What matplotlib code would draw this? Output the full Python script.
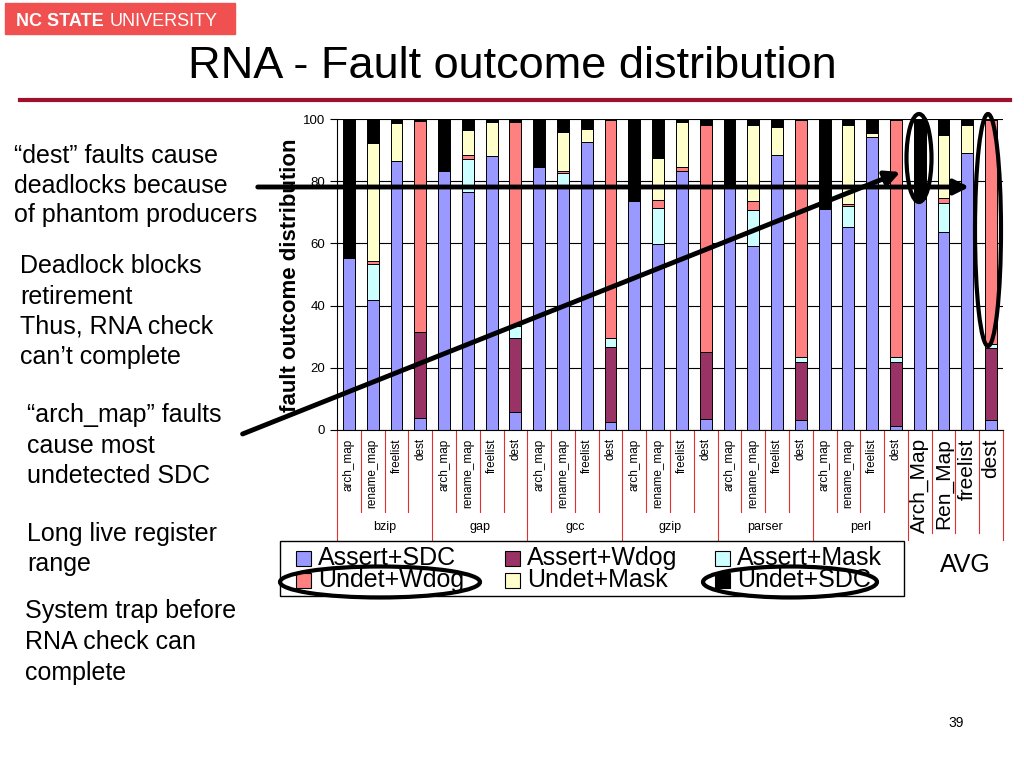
import matplotlib
matplotlib.use('Agg')
import matplotlib.pyplot as plt
from matplotlib.patches import Rectangle, Ellipse
from matplotlib.lines import Line2D
import numpy as np

plt.rcParams['font.family'] = ['Liberation Sans', 'DejaVu Sans']

benchmarks = ['bzip', 'gap', 'gcc', 'gzip', 'parser', 'perl']
structures = ['arch_map', 'rename_map', 'freelist', 'dest']
avg_labels = ['Arch_Map', 'Ren_Map', 'freelist', 'dest']

# per bar: bzip(4), gap(4), gcc(4), gzip(4), parser(4), perl(4), AVG(4)
assert_sdc = [55.4, 41.7, 86.5, 3.8,  83.3, 76.4, 88.2, 5.9,  84.7, 78.8, 92.5, 2.7,
              73.7, 59.8, 83.3, 3.4,  78.0, 59.3, 88.5, 3.2,  71.0, 65.4, 94.3, 1.3,
              74.4, 63.6, 89.0, 3.2]
assert_wdog = [0, 0, 0, 27.8,  0, 0, 0, 23.8,  0, 0, 0, 23.9,
               0, 0, 0, 21.8,  0, 0, 0, 18.8,  0, 0, 0, 20.7,
               0, 0, 0, 23.1]
assert_mask = [0, 11.6, 0, 0,  0, 10.6, 0, 3.7,  0, 3.7, 0, 3.1,
               0, 11.5, 0, 0,  0, 11.4, 0, 1.6,  0, 6.6, 0, 1.4,
               0, 9.3, 0, 1.3]
undet_wdog = [0, 1.1, 0, 67.9,  0, 1.3, 0, 65.7,  0, 0.9, 0, 70.0,
              0, 2.7, 1.2, 72.9,  0, 3.0, 0, 76.1,  0, 0.6, 0, 76.3,
              0, 1.6, 0, 72.2]
undet_mask = [0, 37.8, 12.1, 0,  0, 8.2, 10.7, 0,  0, 12.5, 4.2, 0,
              0, 13.6, 14.6, 0,  0, 24.4, 9.0, 0,  0, 25.5, 1.3, 0,
              0, 20.4, 9.1, 0]
undet_sdc = [44.6, 7.8, 1.4, 0.5,  16.7, 3.5, 1.1, 0.9,  15.3, 4.1, 3.3, 0.3,
             26.3, 12.4, 0.9, 1.9,  22.0, 1.9, 2.5, 0.3,  29.0, 1.9, 4.4, 0.3,
             25.6, 5.1, 1.9, 0.2]

series = ['Assert+SDC', 'Assert+Wdog', 'Assert+Mask', 'Undet+Wdog', 'Undet+Mask', 'Undet+SDC']
colors = ['#9999FF', '#993366', '#CCFFFF', '#FF8080', '#FFFFCC', '#000000']
values = [assert_sdc, assert_wdog, assert_mask, undet_wdog, undet_mask, undet_sdc]

W, H = 1024, 768
fig = plt.figure(figsize=(10.24, 7.68), dpi=100)


def fx(x):
    return x / W


def fy(y):
    return 1 - y / H


# header
fig.add_artist(Rectangle((fx(5), fy(34)), fx(230), 31 / H, color='#F05050', transform=fig.transFigure))
fig.text(fx(16), fy(26), 'NC STATE', color='white', fontsize=13, fontweight='bold')
fig.text(fx(110), fy(26), 'UNIVERSITY', color='white', fontsize=13)
fig.text(fx(512), fy(78), 'RNA - Fault outcome distribution', fontsize=32.5, ha='center', va='baseline')
fig.add_artist(Line2D([fx(20), fx(1010)], [fy(100), fy(100)], color='#A0102A', lw=3))

# chart
ax = fig.add_axes([fx(337), fy(430), (1003 - 337) / W, (430 - 119) / H])
x = np.arange(len(assert_sdc))
bottom = np.zeros(len(x))
for name, c, v in zip(series, colors, values):
    ax.bar(x, v, 0.5, bottom=bottom, color=c, edgecolor='black', linewidth=0.7, label=name)
    bottom += np.array(v)

ax.set_xlim(-0.5, len(x) - 0.5)
ax.set_ylim(0, 100)
ax.set_yticks([0, 20, 40, 60, 80, 100])
ax.tick_params(axis='y', labelsize=9.5, length=5, width=0.8)
ax.yaxis.grid(True, color='black', lw=0.8)
ax.set_axisbelow(True)
for s in ['top', 'right']:
    ax.spines[s].set_visible(False)

labels = structures * len(benchmarks) + avg_labels
ax.set_xticks(x)
ax.set_xticklabels(labels, rotation=90, fontsize=8.5)
for t in ax.get_xticklabels()[-4:]:
    t.set_fontsize(15)
ax.tick_params(axis='x', length=0, pad=6)

tr = ax.get_xaxis_transform()
for i in range(len(x) + 1):
    low = -0.354 if i % 4 == 0 else (-0.33 if i > 24 else -0.264)
    ax.plot([i - 0.5, i - 0.5], [0, low], color='#E03030', lw=0.8, transform=tr, clip_on=False)
for k, b in enumerate(benchmarks):
    ax.text(4 * k + 1.5, -0.312, b, transform=tr, ha='center', va='center', fontsize=9)

fig.text(fx(290), fy(275), 'fault outcome distribution', rotation=90, fontsize=16,
         fontweight='bold', ha='center', va='center')

# legend
fig.add_artist(Rectangle((fx(280), fy(596)), fx(624), 55 / H, fill=False, edgecolor='black',
                         lw=1, transform=fig.transFigure))
col_x = [296, 505, 715]
row_y = [558, 580]
for k, (name, c) in enumerate(zip(series, colors)):
    cx = col_x[k % 3]
    cy = row_y[k // 3]
    fig.add_artist(Rectangle((fx(cx), fy(cy + 8)), fx(15), 15 / H, facecolor=c, edgecolor='black',
                             lw=0.8, transform=fig.transFigure))
    fig.text(fx(cx + 22), fy(cy), name, fontsize=18, va='center')

fig.text(fx(940), fy(565), 'AVG', fontsize=18, va='center')
fig.text(fx(948), fy(727), '39', fontsize=10, va='baseline')

# notes
notes = [
    (14, [163, 193, 222], ['\u201cdest\u201d faults cause', 'deadlocks because', 'of phantom producers']),
    (20, [273, 304, 334, 364], ['Deadlock blocks', 'retirement', 'Thus, RNA check', 'can\u2019t complete']),
    (27, [422, 453, 483], ['\u201carch_map\u201d faults', 'cause most', 'undetected SDC']),
    (27, [541, 571], ['Long live register', 'range']),
    (25, [618, 649, 680], ['System trap before', 'RNA check can', 'complete']),
]
for nx, ys, lines in notes:
    for ly, txt in zip(ys, lines):
        fig.text(fx(nx), fy(ly), txt, fontsize=18, va='baseline')

# arrows and ellipses
arrow = dict(arrowstyle='-|>', lw=3.5, color='black', mutation_scale=22)
ax.annotate('', xy=(972, H - 187), xytext=(255, H - 187), xycoords='figure pixels',
            textcoords='figure pixels', arrowprops=arrow)
ax.annotate('', xy=(903, H - 171), xytext=(240, H - 435), xycoords='figure pixels',
            textcoords='figure pixels', arrowprops=arrow)

for cx, cy, w, h in [(919, 158, 25, 88), (988, 230, 26, 232), (380, 582, 200, 31), (790, 582, 174, 31)]:
    fig.add_artist(Ellipse((fx(cx), fy(cy)), w / W, h / H, fill=False, edgecolor='black', lw=3,
                           transform=fig.transFigure))

fig.savefig('out.png', dpi=100)
